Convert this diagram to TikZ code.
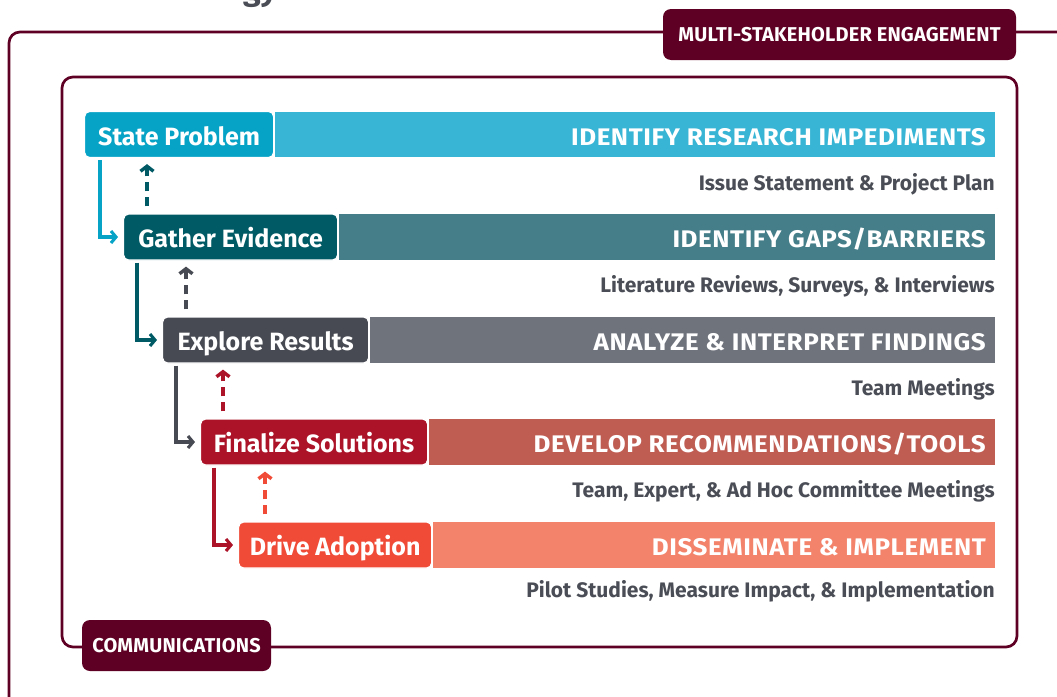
\documentclass[tikz,border=0pt]{standalone}
\usepackage{fontspec}
\setmainfont{Fira Sans}
\newfontfamily\capsfont{Fira Sans}[FakeStretch=1.08,LetterSpace=2.5]
\newfontfamily\badgefont{Fira Sans}[LetterSpace=1]
\usetikzlibrary{arrows.meta,positioning}

\definecolor{maroon}{HTML}{5E0023}
\definecolor{subgrey}{HTML}{4A4D55}
\definecolor{cyanbox}{HTML}{06A3C6}
\definecolor{cyanbar}{HTML}{38B5D5}
\definecolor{tealbox}{HTML}{005A65}
\definecolor{tealbar}{HTML}{457E88}
\definecolor{greybox}{HTML}{474A52}
\definecolor{greybar}{HTML}{6F737C}
\definecolor{redbox}{HTML}{AC1328}
\definecolor{redbar}{HTML}{C05D53}
\definecolor{orangebox}{HTML}{F04B37}
\definecolor{orangebar}{HTML}{F3846B}

\tikzset{
  stepbox/.style={rounded corners=5pt, draw=white, line width=1.2pt, text=white,
    font=\bfseries\fontsize{25}{25}\selectfont, minimum height=46pt,
    text height=21pt, text depth=0pt, anchor=west},
  bartext/.style={text=white, font=\capsfont\bfseries\fontsize{24}{24}\selectfont, anchor=base east, inner sep=0pt},
  subtext/.style={text=subgrey, font=\bfseries\fontsize{21}{21}\selectfont, anchor=base east, inner sep=0pt},
  badge/.style={rounded corners=8pt, fill=maroon, text=white,
    font=\badgefont\bfseries\fontsize{20}{20}\selectfont, minimum height=51pt,
    text height=14pt, text depth=0pt},
  frame/.style={draw=maroon, line width=2.7pt, rounded corners=11pt},
  flow/.style={line width=3.1pt, -{Straight Barb[length=5pt,width=12pt]}, shorten <=2pt, shorten >=5pt},
  back/.style={line width=3.4pt, dash pattern=on 9pt off 6pt, -{Straight Barb[length=5pt,width=13pt]},
    shorten <=7pt, shorten >=6pt}
}

\begin{document}
\begin{tikzpicture}[x=1pt,y=-1pt]
\path[use as bounding box] (0,0) rectangle (1057,696);
\clip (0,0) rectangle (1057,696);

% heading fragment
\node[text=subgrey, font=\bfseries\fontsize{32}{32}\selectfont, anchor=base west, inner sep=0pt] (head) at (243,0.5) {gy};

% frames
\draw[frame] (9,32) rectangle (1080,720);
\draw[frame] (62,77) rectangle (1017,647);
\node[badge, minimum width=353pt] (mse) at (839.5,34.5) {MULTI-STAKEHOLDER ENGAGEMENT};
\node[badge, minimum width=189pt] (comm) at (176.5,645.5) {COMMUNICATIONS};

\coordinate (barend) at (995,0);

% steps
\node[stepbox, fill=cyanbox, minimum width=189pt] (sp) at (84,134.5) {State Problem};
\node[stepbox, fill=tealbox, minimum width=214pt] (ge) at (123,237) {Gather Evidence};
\node[stepbox, fill=greybox, minimum width=206pt] (er) at (162,340) {Explore Results};
\node[stepbox, fill=redbox, minimum width=227pt] (fs) at (200,442) {Finalize Solutions};
\node[stepbox, fill=orangebox, minimum width=193pt] (da) at (238,545) {Drive Adoption};

% bars
\fill[cyanbar] ([xshift=1pt,yshift=-1pt]sp.north east) rectangle ([yshift=1pt]barend |- sp.south);
\fill[tealbar] ([xshift=1pt,yshift=-1pt]ge.north east) rectangle ([yshift=1pt]barend |- ge.south);
\fill[greybar] ([xshift=1pt,yshift=-1pt]er.north east) rectangle ([yshift=1pt]barend |- er.south);
\fill[redbar] ([xshift=1pt,yshift=-1pt]fs.north east) rectangle ([yshift=1pt]barend |- fs.south);
\fill[orangebar] ([xshift=1pt,yshift=-1pt]da.north east) rectangle ([yshift=1pt]barend |- da.south);

\node[bartext] (sp-bar) at (986,145) {IDENTIFY RESEARCH IMPEDIMENTS};
\node[bartext] (ge-bar) at (986,247.5) {IDENTIFY GAPS/BARRIERS};
\node[bartext] (er-bar) at (986,350.5) {ANALYZE \& INTERPRET FINDINGS};
\node[bartext] (fs-bar) at (986,452.5) {DEVELOP RECOMMENDATIONS/TOOLS};
\node[bartext] (da-bar) at (986,555.5) {DISSEMINATE \& IMPLEMENT};

\node[subtext] (sp-sub) at (995,190) {Issue Statement \& Project Plan};
\node[subtext] (ge-sub) at (995,292.5) {Literature Reviews, Surveys, \& Interviews};
\node[subtext] (er-sub) at (995,395) {Team Meetings};
\node[subtext] (fs-sub) at (995,497.5) {Team, Expert, \& Ad Hoc Committee Meetings};
\node[subtext] (da-sub) at (995,597) {Pilot Studies, Measure Impact, \& Implementation};

% forward flow
\draw[flow, cyanbox] ([xshift=16pt]sp.south west) |- (ge.west);
\draw[flow, tealbox] ([xshift=14pt]ge.south west) |- (er.west);
\draw[flow, greybox] ([xshift=14pt]er.south west) |- (fs.west);
\draw[flow, redbox] ([xshift=14pt]fs.south west) |- (da.west);

% feedback
\draw[back, tealbox] ([xshift=24pt]ge.north west) -- ([xshift=24pt]ge.north west |- sp.south);
\draw[back, greybox] ([xshift=24pt]er.north west) -- ([xshift=24pt]er.north west |- ge.south);
\draw[back, redbox] ([xshift=23pt]fs.north west) -- ([xshift=23pt]fs.north west |- er.south);
\draw[back, orangebox] ([xshift=27pt]da.north west) -- ([xshift=27pt]da.north west |- fs.south);
\end{tikzpicture}
\end{document}
